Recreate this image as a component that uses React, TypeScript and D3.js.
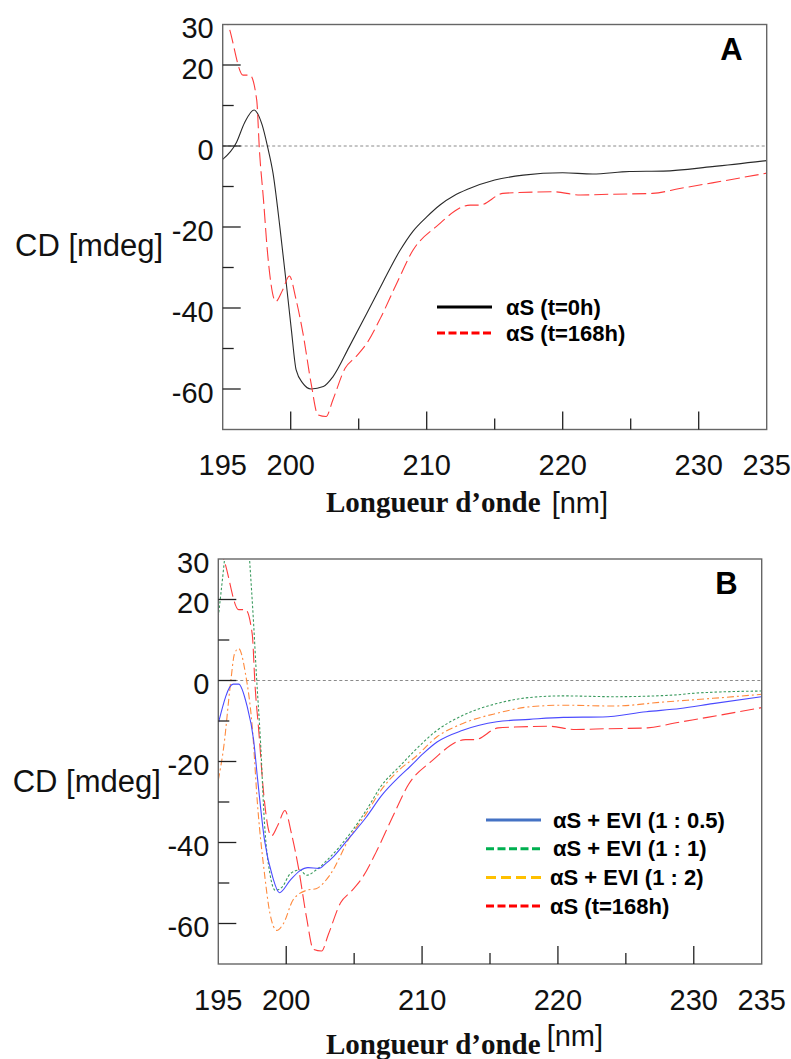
import React from "react";
import * as d3 from "d3";

// ---------- data ----------
const xTickLabels = [195, 200, 210, 220, 230, 235];
const xMajorTicks = [200, 210, 220, 230];
const xMinorTicks = [205, 215, 225];
const yTickLabels = [30, 20, 0, -20, -40, -60];
const yMajorTicks = [20, 0, -20, -40, -60];
const yMinorTicks = [10, -10, -30, -50];

// αS (t=0h)
const wlT0 = [195, 196.0, 196.6, 197.3, 197.9, 198.3, 198.7, 199.2, 199.7, 200.05, 200.4, 200.9, 201.5, 202.4, 203.1, 204.3, 205.6, 206.8, 208.0, 209.0, 210.0, 211.0, 212.0, 213.0, 215.0, 217.1, 220.0, 222.2, 224.9, 227.4, 231.0, 235];
const cdT0 = [-3.3, 0.8, 5.7, 8.9, 5.2, -0.2, -6.7, -19.9, -34.7, -45.4, -55.3, -58.6, -60, -59.4, -57, -49.6, -41.3, -33.5, -26, -21, -17.5, -14.5, -12.3, -10.7, -8.4, -7.2, -6.6, -6.9, -6.3, -6.2, -5.1, -3.6];

// αS (t=168h)
const wlT168 = [195, 195.4, 196.5, 197.0, 197.5, 197.7, 198.0, 198.3, 198.9, 199.4, 199.9, 200.4, 200.9, 201.5, 202.0, 202.6, 203.1, 204.0, 204.8, 205.6, 206.6, 207.8, 209.0, 210.7, 213.2, 213.9, 215.6, 216.8, 219.3, 221.3, 223.7, 226.6, 228.6, 231.0, 235];
const cdT168 = [33, 29.9, 17.5, 17.5, 11.4, -1, -13.3, -26.5, -38.4, -35.6, -32.1, -38, -46.2, -58.6, -66.4, -66.8, -62.7, -54.9, -52, -48.7, -42.5, -33.9, -25.7, -19.9, -14.6, -14.6, -11.7, -11.5, -11.3, -12.1, -11.9, -11.7, -10.5, -9.1, -6.7];

// αS + EVI (1 : 0.5)
const wlEvi05 = [195, 196.1, 196.5, 197.1, 197.6, 197.9, 198.4, 199.0, 199.5, 200.3, 201.0, 201.6, 202.4, 202.9, 203.5, 204.5, 205.9, 207.0, 208.4, 209.1, 210.1, 211.1, 213.0, 215.5, 217.9, 220.4, 223.3, 226.5, 229.0, 231.4, 235];
const cdEvi05 = [-10.6, -0.9, -0.9, -6.1, -14.7, -24.6, -39.4, -48.5, -52.4, -49.3, -47.0, -46.2, -46.4, -45.2, -43.4, -39.4, -33.7, -28.5, -23.5, -21.3, -18, -15.2, -12.3, -10.2, -9.6, -9.1, -9, -7.7, -6.9, -5.7, -4];

// αS + EVI (1 : 1)
const wlEvi1 = [195, 195.4, 195.7, 196.3, 197.0, 197.3, 197.6, 197.8, 198.1, 198.4, 198.8, 199.2, 199.7, 200.3, 201.0, 201.5, 202.2, 203.0, 204.7, 205.9, 207.0, 208.4, 209.4, 211.1, 213.0, 215.5, 217.9, 220.4, 224.1, 228.5, 230.2, 235];
const cdEvi1 = [15.7, 28, 38, 48, 45, 30, 14, 1.7, -14.7, -35.3, -47.7, -51.8, -51, -47.7, -46.8, -48.1, -46.8, -44.4, -37.8, -32, -26, -21, -17.5, -12.3, -8.6, -5.7, -4.2, -3.8, -4, -3.6, -3.1, -2.6];

// αS + EVI (1 : 2)
const wlEvi2 = [195, 195.4, 195.9, 196.2, 196.5, 197.0, 197.5, 197.9, 198.4, 198.8, 199.3, 199.8, 200.5, 201.5, 202.2, 203.2, 204.7, 205.9, 207.0, 208.4, 209.4, 211.1, 213.0, 215.5, 217.9, 220.4, 224.1, 227.8, 231.4, 235];
const cdEvi2 = [-24.6, -16.4, -0.7, 6.7, 7.9, 1.7, -11.5, -31.2, -47.7, -57.5, -61.7, -60, -54.2, -51.8, -51.4, -48.1, -38.6, -32.8, -27, -21.8, -19.2, -13.9, -10.6, -8.1, -6.5, -6.1, -6.3, -5.3, -4.4, -3.4];

const legendA = ["αS (t=0h)", "αS (t=168h)"];
const legendB = ["αS + EVI (1 : 0.5)", "αS + EVI (1 : 1)", "αS + EVI (1 : 2)", "αS (t=168h)"];

type Series = { wl: number[]; cd: number[]; color: string; dash?: string; width?: number };
type LegendItem = { label: string; color: string; dash?: string; dx: number };

const SANS = "'Liberation Sans', Arial, sans-serif";
const SERIF = "'Liberation Serif', 'Times New Roman', serif";

function Panel(props: {
  id: string;
  left: number;
  top: number;
  width: number;
  height: number;
  letter: string;
  series: Series[];
  legend: LegendItem[];
  legendLineX: number;
  legendTextX: number;
  legendY: number;
  legendStep: number;
  labelBaseline: number;
  titleBaseline: number;
  nmBaseline: number;
  nmX: number;
  cdBaseline: number;
  cdX: number;
}) {
  const { left, top, width, height } = props;
  const x = d3.scaleLinear().domain([195, 235]).range([left, left + width]);
  const y = d3.scaleLinear().domain([-70, 30]).range([top + height, top]);
  const line = d3
    .line<[number, number]>()
    .x((d) => x(d[0]))
    .y((d) => y(d[1]))
    .curve(d3.curveMonotoneX);
  const bottom = top + height;
  const clipId = "clip-" + props.id;
  return (
    <g>
      <defs>
        <clipPath id={clipId}>
          <rect x={left} y={top} width={width} height={height} />
        </clipPath>
      </defs>
      {/* zero line */}
      <line x1={left} x2={left + width} y1={y(0)} y2={y(0)} stroke="#8a8a8a" strokeWidth={1} strokeDasharray="3,2.5" />
      {/* curves */}
      <g clipPath={`url(#${clipId})`}>
        {props.series.map((s, i) => (
          <path
            key={i}
            d={line(s.wl.map((w, j) => [w, s.cd[j]] as [number, number])) || ""}
            fill="none"
            stroke={s.color}
            strokeWidth={s.width ?? 1.1}
            strokeDasharray={s.dash}
          />
        ))}
      </g>
      {/* frame */}
      <rect x={left} y={top} width={width} height={height} fill="none" stroke="#666" strokeWidth={1.4} />
      {/* ticks */}
      {xMajorTicks.map((t) => (
        <line key={"xM" + t} x1={x(t)} x2={x(t)} y1={bottom} y2={bottom - 18} stroke="#222" strokeWidth={1.3} />
      ))}
      {xMinorTicks.map((t) => (
        <line key={"xm" + t} x1={x(t)} x2={x(t)} y1={bottom} y2={bottom - 11} stroke="#222" strokeWidth={1.3} />
      ))}
      {yMajorTicks.map((t) => (
        <line key={"yM" + t} x1={left} x2={left + 18} y1={y(t)} y2={y(t)} stroke="#222" strokeWidth={1.3} />
      ))}
      {yMinorTicks.map((t) => (
        <line key={"ym" + t} x1={left} x2={left + 11} y1={y(t)} y2={y(t)} stroke="#222" strokeWidth={1.3} />
      ))}
      {/* tick labels */}
      {xTickLabels.map((t) => (
        <text key={"xl" + t} x={x(t)} y={props.labelBaseline} textAnchor="middle" fontFamily={SANS} fontSize={29} fill="#111">
          {t}
        </text>
      ))}
      {yTickLabels.map((t) => (
        <text key={"yl" + t} x={left - 9} y={y(t) + 13.5} textAnchor="end" fontFamily={SANS} fontSize={29} fill="#111">
          {t}
        </text>
      ))}
      {/* axis titles */}
      <text x={props.cdX} y={props.cdBaseline} fontFamily={SANS} fontSize={31} fill="#111">
        CD [mdeg]
      </text>
      <text x={326} y={props.titleBaseline} fontFamily={SERIF} fontWeight="bold" fontSize={29} fill="#111">
        Longueur d’onde
      </text>
      <text x={props.nmX} y={props.nmBaseline} fontFamily={SANS} fontSize={29} fill="#111">
        [nm]
      </text>
      {/* panel letter */}
      <text x={left + width - 24} y={top + 35} textAnchor="end" fontFamily={SANS} fontWeight="bold" fontSize={31} fill="#000">
        {props.letter}
      </text>
      {/* legend */}
      {props.legend.map((l, i) => {
        const ly = props.legendY + i * props.legendStep;
        return (
          <g key={"lg" + i}>
            <line x1={props.legendLineX} x2={props.legendLineX + 55} y1={ly} y2={ly} stroke={l.color} strokeWidth={3} strokeDasharray={l.dash} />
            <text x={props.legendTextX + l.dx} y={ly + 7.5} fontFamily={SANS} fontWeight="bold" fontSize={22} fill="#000">
              {l.label}
            </text>
          </g>
        );
      })}
    </g>
  );
}

export default function App() {
  const redB = "#ff3b3b";
  return (
    <svg width={791} height={1059} style={{ position: "absolute", left: 0, top: 0, background: "#fff" }}>
      <rect x={0} y={0} width={791} height={1059} fill="#fff" />
      <Panel
        id="A"
        left={222.7}
        top={24.5}
        width={544}
        height={405}
        letter="A"
        series={[
          { wl: wlT0, cd: cdT0, color: "#2a2a2a", width: 1.1 },
          { wl: wlT168, cd: cdT168, color: redB, dash: "14,5", width: 1.1 },
        ]}
        legend={[
          { label: legendA[0], color: "#000", dx: 0 },
          { label: legendA[1], color: "#ff0000", dash: "8,3.5", dx: 0 },
        ]}
        legendLineX={437}
        legendTextX={506}
        legendY={307}
        legendStep={26}
        labelBaseline={475}
        titleBaseline={512}
        nmBaseline={513}
        nmX={551.7}
        cdBaseline={256}
        cdX={15}
      />
      <Panel
        id="B"
        left={218.3}
        top={559}
        width={543.4}
        height={405}
        letter="B"
        series={[
          { wl: wlT168, cd: cdT168, color: redB, dash: "14,5", width: 1.1 },
          { wl: wlEvi1, cd: cdEvi1, color: "#3a9a5e", dash: "2.5,2", width: 1.1 },
          { wl: wlEvi2, cd: cdEvi2, color: "#ff8a3d", dash: "7,3,2,3", width: 1.1 },
          { wl: wlEvi05, cd: cdEvi05, color: "#4a4aff", width: 1.1 },
        ]}
        legend={[
          { label: legendB[0], color: "#4472c4", dx: 3 },
          { label: legendB[1], color: "#00b050", dash: "8,3.5", dx: 3 },
          { label: legendB[2], color: "#ffc000", dash: "10,5", dx: 0 },
          { label: legendB[3], color: "#ff0000", dash: "8,3.5", dx: 0 },
        ]}
        legendLineX={486}
        legendTextX={550}
        legendY={820}
        legendStep={28.7}
        labelBaseline={1010}
        titleBaseline={1054}
        nmBaseline={1046}
        nmX={546.7}
        cdBaseline={791.5}
        cdX={12.7}
      />
    </svg>
  );
}
